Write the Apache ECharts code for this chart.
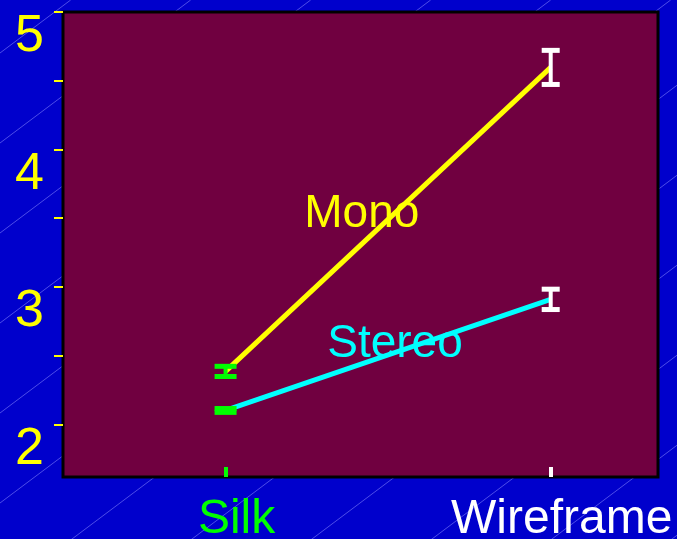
<!DOCTYPE html>
<html>
<head>
<meta charset="utf-8">
<script src="https://cdn.jsdelivr.net/npm/echarts@6/dist/echarts.min.js"></script>
<style>
  html, body { margin: 0; padding: 0; background: #0000CC; }
  #chart { width: 677px; height: 539px; }
</style>
</head>
<body>
<div id="chart"></div>
<script>
// ---- data ----
const categories = ['Silk', 'Wireframe'];
const monoMean = [2.386, 4.597];
const monoErr = [0.037, 0.124];
const stereoMean = [2.102, 2.910];
const stereoErr = [0.014, 0.074];
const yTickValues = [2, 2.5, 3, 3.5, 4, 4.5, 5];
const yLabelValues = [2, 3, 4, 5];
const seriesNames = ['Mono', 'Stereo'];

// ---- styles ----
const catColors = ['#00FF00', '#FFFFFF'];
const catCapHalf = [11, 9];
const FONT = '"Liberation Sans", Arial, sans-serif';

const xVals = categories.map((c, i) => i + 1);
const monoData = xVals.map((x, i) => [x, monoMean[i]]);
const stereoData = xVals.map((x, i) => [x, stereoMean[i]]);
const errData = [];
xVals.forEach((x, i) => {
  errData.push([x, monoMean[i], monoErr[i], i]);
  errData.push([x, stereoMean[i], stereoErr[i], i]);
});

// decorative diagonal background lines
const bgLines = [];
for (let k = 0; k < 13; k++) {
  const c = 53 + 90 * k;
  bgLines.push({
    type: 'line', z: -100, silent: true,
    shape: { x1: 0, y1: c, x2: c / 0.75, y2: 0 },
    style: { stroke: 'rgba(140,140,255,0.55)', lineWidth: 1 }
  });
}

const chart = echarts.init(document.getElementById('chart'));

function xAxisFor(idx) {
  return {
    type: 'value', gridIndex: 0, position: 'bottom', offset: 0,
    min: 0.5, max: 2.33,
    splitLine: { show: false },
    axisLine: { show: false },
    axisTick: {
      show: true, inside: true, length: 10, customValues: [xVals[idx]],
      lineStyle: { color: catColors[idx], width: 4 }
    },
    axisLabel: {
      show: true, customValues: [xVals[idx]],
      formatter: v => categories[Math.round(v) - 1] || '',
      color: catColors[idx], fontSize: 48, fontFamily: FONT,
      margin: 20, verticalAlign: 'top', lineHeight: 46,
      padding: [0, 0, 0, 22]
    }
  };
}

chart.setOption({
  animation: false,
  backgroundColor: '#0000CC',
  graphic: bgLines,
  grid: {
    left: 63, top: 12, right: 19, bottom: 62,
    containLabel: false, outerBoundsMode: 'none',
    show: true, backgroundColor: '#700040',
    borderColor: '#000000', borderWidth: 3
  },
  xAxis: [xAxisFor(0), xAxisFor(1)],
  yAxis: {
    type: 'value', min: 1.618, max: 5,
    splitLine: { show: false },
    axisLine: { show: false },
    axisTick: {
      show: true, inside: false, length: 9, customValues: yTickValues,
      lineStyle: { color: '#FFFF00', width: 2 }
    },
    axisLabel: {
      show: true, customValues: yLabelValues,
      color: '#FFFF00', fontSize: 52, fontFamily: FONT,
      margin: 19, verticalAlign: 'top', lineHeight: 50
    }
  },
  series: [
    {
      name: seriesNames[0], type: 'line', data: monoData,
      showSymbol: false, symbol: 'none', z: 2,
      lineStyle: { color: '#FFFF00', width: 5 },
      markPoint: {
        symbol: 'circle', symbolSize: 0, silent: true,
        data: [{ coord: [1.419, 3.527], value: seriesNames[0] }],
        label: { show: true, position: 'inside', formatter: seriesNames[0],
                 color: '#FFFF00', fontSize: 46, fontFamily: FONT }
      }
    },
    {
      name: seriesNames[1], type: 'line', data: stereoData,
      showSymbol: false, symbol: 'none', z: 2,
      lineStyle: { color: '#00FFFF', width: 5 },
      markPoint: {
        symbol: 'circle', symbolSize: 0, silent: true,
        data: [{ coord: [1.521, 2.586], value: seriesNames[1] }],
        label: { show: true, position: 'inside', formatter: seriesNames[1],
                 color: '#00FFFF', fontSize: 46, fontFamily: FONT }
      }
    },
    {
      type: 'custom', z: 5, data: errData,
      renderItem: function (params, api) {
        const x = api.value(0), m = api.value(1), e = api.value(2), ci = api.value(3);
        const top = api.coord([x, m + e]);
        const bot = api.coord([x, m - e]);
        const hw = catCapHalf[ci];
        const style = { stroke: catColors[ci], lineWidth: 5, lineCap: 'butt' };
        return {
          type: 'group',
          children: [
            { type: 'line', shape: { x1: top[0], y1: top[1], x2: bot[0], y2: bot[1] },
              style: { stroke: catColors[ci], lineWidth: 4 } },
            { type: 'line', shape: { x1: top[0] - hw, y1: top[1], x2: top[0] + hw, y2: top[1] }, style: style },
            { type: 'line', shape: { x1: bot[0] - hw, y1: bot[1], x2: bot[0] + hw, y2: bot[1] }, style: style }
          ]
        };
      }
    }
  ]
});
</script>
</body>
</html>
